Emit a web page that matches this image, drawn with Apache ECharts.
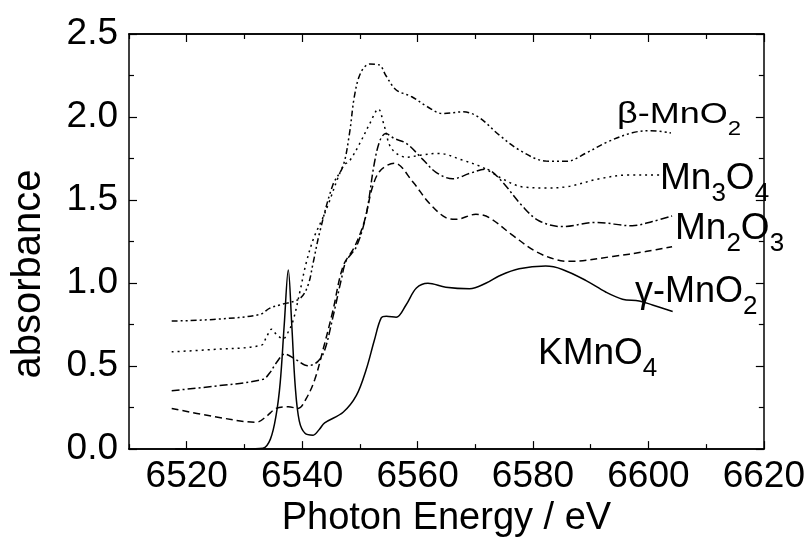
<!DOCTYPE html>
<html>
<head>
<meta charset="utf-8">
<script src="https://cdn.jsdelivr.net/npm/echarts@6/dist/echarts.min.js"></script>
<style>
html,body{margin:0;padding:0;background:#fff;}
#chart{width:808px;height:543px;}
</style>
</head>
<body>
<div id="chart"></div>
<script>
// ---- data ----
const xMajorTicks = [6520, 6540, 6560, 6580, 6600, 6620];
const xMinorTicks = [6510, 6530, 6550, 6570, 6590, 6610];

const kmno4E = [6518, 6530, 6533.2, 6534.5, 6535.5, 6536.2, 6536.9, 6537.6, 6538.2, 6538.8, 6539.5, 6540.5, 6541.9, 6543.0, 6543.9, 6547.1, 6549.4, 6551.1, 6552.5, 6553.7, 6554.6, 6556.3, 6558.0, 6559.8, 6561.8, 6564.9, 6569.0, 6571.9, 6574.2, 6577.6, 6582.2, 6585.1, 6589.2, 6592.6, 6595.5, 6598.4, 6600.7, 6604.2];
const kmno4A = [0, 0, 0.005, 0.06, 0.206, 0.40, 0.75, 1.079, 0.75, 0.38, 0.17, 0.095, 0.084, 0.12, 0.158, 0.222, 0.323, 0.479, 0.654, 0.79, 0.80, 0.794, 0.868, 0.970, 0.999, 0.975, 0.966, 1.0, 1.044, 1.086, 1.102, 1.082, 1.015, 0.946, 0.903, 0.892, 0.868, 0.829];

const gammaE = [6517.4, 6524.6, 6532.1, 6533.8, 6535.5, 6537.6, 6539.3, 6540.7, 6542.2, 6543.6, 6545.3, 6547.1, 6549.1, 6550.8, 6552.2, 6553.6, 6556.0, 6559.2, 6562.0, 6564.9, 6566.7, 6570.1, 6572.4, 6576.5, 6580.5, 6584.0, 6586.3, 6593.8, 6599.5, 6604.1];
const gammaA = [0.245, 0.197, 0.162, 0.197, 0.245, 0.255, 0.245, 0.304, 0.42, 0.596, 0.829, 1.102, 1.219, 1.374, 1.58, 1.68, 1.722, 1.608, 1.482, 1.394, 1.384, 1.414, 1.394, 1.287, 1.19, 1.141, 1.131, 1.16, 1.19, 1.219];

const mn2o3E = [6517.4, 6524.6, 6533.2, 6534.4, 6535.5, 6537.0, 6539.0, 6541.0, 6542.7, 6543.9, 6545.3, 6546.8, 6547.6, 6549.4, 6551.1, 6552.5, 6553.5, 6554.5, 6556.0, 6558.1, 6560.9, 6563.2, 6566.1, 6569.0, 6571.8, 6574.2, 6578.2, 6581.1, 6585.1, 6590.9, 6597.2, 6600.7, 6604.1];
const mn2o3A = [0.352, 0.378, 0.42, 0.46, 0.518, 0.572, 0.537, 0.502, 0.527, 0.596, 0.79, 1.024, 1.131, 1.219, 1.414, 1.72, 1.86, 1.9, 1.87, 1.84, 1.745, 1.667, 1.628, 1.66, 1.686, 1.628, 1.462, 1.374, 1.34, 1.365, 1.345, 1.371, 1.404];

const mn3o4E = [6517.4, 6524.6, 6532.9, 6533.8, 6534.7, 6535.5, 6536.7, 6537.5, 6538.4, 6539.6, 6540.7, 6542.0, 6543.6, 6544.5, 6547.1, 6548.2, 6550.0, 6551.7, 6553.2, 6554.2, 6555.5, 6558.1, 6560.5, 6563.6, 6567.8, 6571.3, 6574.7, 6578.2, 6582.2, 6585.7, 6591.5, 6596.6, 6601.8, 6604.0];
const mn3o4A = [0.586, 0.6, 0.625, 0.673, 0.722, 0.693, 0.664, 0.70, 0.77, 0.946, 1.121, 1.27, 1.394, 1.472, 1.706, 1.735, 1.842, 1.959, 2.048, 1.95, 1.81, 1.758, 1.77, 1.781, 1.74, 1.696, 1.628, 1.579, 1.573, 1.579, 1.628, 1.651, 1.651, 1.652];

const betaE = [6517.4, 6524.6, 6532.6, 6534.4, 6536.1, 6539.6, 6541.0, 6541.9, 6543.0, 6545.3, 6547.1, 6548.2, 6549.1, 6550.2, 6551.7, 6553.4, 6554.5, 6556.3, 6559.0, 6561.7, 6564.3, 6567.9, 6570.5, 6574.2, 6577.7, 6582.2, 6585.8, 6589.3, 6592.9, 6597.2, 6600.4, 6603.9];
const betaA = [0.771, 0.781, 0.81, 0.849, 0.868, 0.907, 0.985, 1.121, 1.30, 1.589, 1.706, 1.9, 2.134, 2.27, 2.319, 2.313, 2.25, 2.163, 2.122, 2.062, 2.021, 2.031, 2.001, 1.89, 1.8, 1.735, 1.733, 1.785, 1.85, 1.905, 1.918, 1.904];

const seriesNames = ['KMnO4', 'γ-MnO2', 'Mn2O3', 'Mn3O4', 'β-MnO2'];

// ---- chart ----
const FONT = '"Liberation Sans", Arial, sans-serif';
const zip = (xs, ys) => xs.map((x, i) => [x, ys[i]]);
const axisLineStyle = { color: '#000', width: 1.5 };

function xAxisDef(position, ticks, len, withLabels) {
  return {
    type: 'value', min: 6510, max: 6620, position: position,
    axisLine: { show: true, onZero: false, lineStyle: axisLineStyle },
    axisTick: { show: true, inside: true, length: len, customValues: ticks, lineStyle: { color: '#000', width: 1.2 } },
    axisLabel: withLabels ? { show: true, customValues: ticks, fontSize: 37, fontFamily: FONT, color: '#000', margin: 9, formatter: v => String(v) } : { show: false },
    splitLine: { show: false }
  };
}

const xAxes = [
  Object.assign(xAxisDef('bottom', xMajorTicks, 8, true), {
    name: 'Photon Energy / eV', nameLocation: 'middle', nameGap: 41,
    nameTextStyle: { fontSize: 38, fontFamily: FONT, color: '#000' }
  }),
  xAxisDef('bottom', xMinorTicks, 5, false),
  xAxisDef('top', xMajorTicks, 8, false),
  xAxisDef('top', xMinorTicks, 5, false)
];

function yAxisDef(position, withLabels) {
  return {
    type: 'value', min: 0, max: 2.5, interval: 0.5, position: position,
    axisLine: { show: true, onZero: false, lineStyle: axisLineStyle },
    axisTick: { show: true, inside: true, length: 8, lineStyle: { color: '#000', width: 1.2 } },
    minorTick: { show: true, splitNumber: 2, length: 5, lineStyle: { color: '#000', width: 1.2 } },
    axisLabel: withLabels ? { show: true, fontSize: 37, fontFamily: FONT, color: '#000', margin: 11, formatter: v => v.toFixed(1) } : { show: false },
    splitLine: { show: false }
  };
}

const lineDefs = [
  { name: seriesNames[0], data: zip(kmno4E, kmno4A), type: 'solid' },
  { name: seriesNames[1], data: zip(gammaE, gammaA), type: [7, 4] },
  { name: seriesNames[2], data: zip(mn2o3E, mn2o3A), type: [8, 3, 2, 3] },
  { name: seriesNames[3], data: zip(mn3o4E, mn3o4A), type: [2, 4] },
  { name: seriesNames[4], data: zip(betaE, betaA), type: [6, 3, 2, 3, 2, 3] }
];

// text measuring for subscripts
const mctx = document.createElement('canvas').getContext('2d');
function textW(t, size) { mctx.font = size + 'px ' + FONT; return mctx.measureText(t).width; }

function label(x, baseline, pieces, size, subSize, scaleX) {
  // pieces: array of [text, isSubscript]
  const children = [];
  let cx = 0;
  pieces.forEach(p => {
    const s = p[1] ? subSize : size;
    const b = p[1] ? 12 : 0;
    children.push({
      type: 'text', x: cx, y: b - s * 0.78,
      style: { text: p[0], fontSize: s, fontFamily: FONT, fill: '#000', align: 'left', verticalAlign: 'top' }
    });
    cx += textW(p[0], s);
  });
  return { type: 'group', x: x, y: baseline, scaleX: scaleX || 1, z: 100, children: children };
}

const chart = echarts.init(document.getElementById('chart'), null, { renderer: 'canvas' });
chart.setOption({
  animation: false,
  backgroundColor: '#fff',
  grid: { left: 129, right: 43, top: 34, bottom: 81, containLabel: false },
  xAxis: xAxes,
  yAxis: [yAxisDef('left', true), yAxisDef('right', false)],
  series: lineDefs.map(d => ({
    name: d.name, type: 'line', xAxisIndex: 0, yAxisIndex: 0,
    data: d.data, showSymbol: false, smooth: 0.35, clip: false,
    lineStyle: { color: '#000', width: 1.5, type: d.type }
  })),
  graphic: [
    { type: 'text', x: 29, y: 274, rotation: Math.PI / 2, z: 100,
      style: { text: 'absorbance', fontSize: 40, fontFamily: FONT, fill: '#000', align: 'center', verticalAlign: 'middle' } },
    label(617, 123, [['β-MnO', false], ['2', true]], 30, 20, 1.2),
    label(660, 189, [['Mn', false], ['3', true], ['O', false], ['4', true]], 37, 26),
    label(675, 239, [['Mn', false], ['2', true], ['O', false], ['3', true]], 37, 26),
    label(635, 302, [['γ-MnO', false], ['2', true]], 36, 26),
    label(538, 364, [['KMnO', false], ['4', true]], 37, 26)
  ]
});
</script>
</body>
</html>
